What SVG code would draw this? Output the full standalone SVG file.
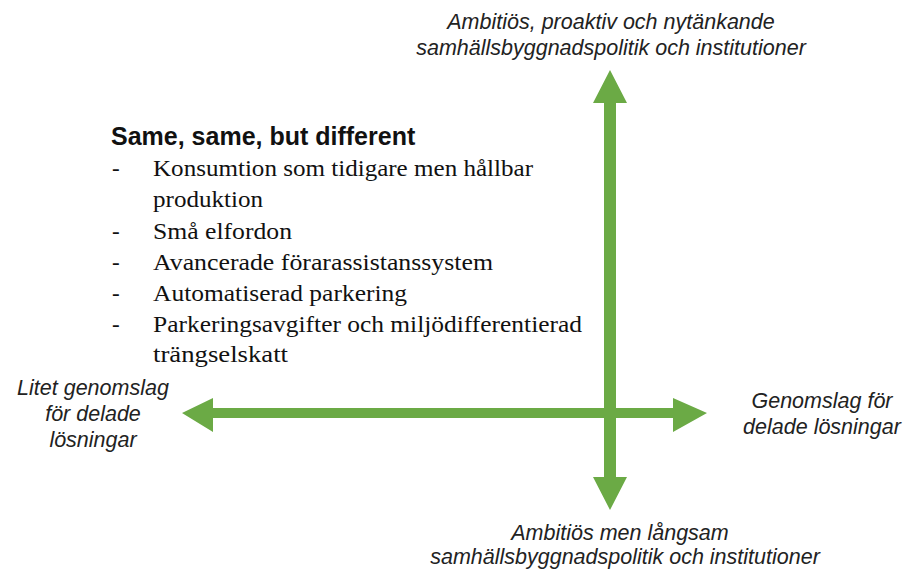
<svg xmlns="http://www.w3.org/2000/svg" width="907" height="569" viewBox="0 0 907 569">
<style>
.ax{font-family:"Liberation Sans",Arial,sans-serif;font-style:italic;font-size:21.5px;fill:#222;text-anchor:middle}
.t{font-family:"Liberation Sans",Arial,sans-serif;font-weight:bold;font-size:25px;fill:#111}
.b{font-family:"Liberation Serif","Times New Roman",serif;font-size:23px;fill:#111}
.arr{fill:#6BAA45}
</style>
<rect width="907" height="569" fill="#fff"/>
<g id="connectors">
<polygon class="arr" points="610,70 627,103 616,103 616,477 627,477 610,510 593,477 604,477 604,103 593,103"/>
<polygon class="arr" points="182,413 213,398 213,408 673,408 673,398 707,413 673,432 673,418 213,418 213,432"/>
</g>
<g id="top-label">
<text class="ax" x="611" y="29">Ambitiös, proaktiv och nytänkande</text>
<text class="ax" x="611" y="55">samhällsbyggnadspolitik och institutioner</text>
</g>
<g id="bottom-label">
<text class="ax" x="620" y="540">Ambitiös men långsam</text>
<text class="ax" x="625" y="564">samhällsbyggnadspolitik och institutioner</text>
</g>
<g id="left-label">
<text class="ax" x="93" y="395">Litet genomslag</text>
<text class="ax" x="93" y="421">för delade</text>
<text class="ax" x="93" y="447">lösningar</text>
</g>
<g id="right-label">
<text class="ax" x="822" y="408">Genomslag för</text>
<text class="ax" x="822" y="434">delade lösningar</text>
</g>
<g id="quadrant-text">
<text class="t" x="111" y="145">Same, same, but different</text>
<text class="b" x="112" y="176">-</text><text class="b" x="153" y="176" textLength="380" lengthAdjust="spacingAndGlyphs">Konsumtion som tidigare men hållbar</text>
<text class="b" x="153" y="207" textLength="110" lengthAdjust="spacingAndGlyphs">produktion</text>
<text class="b" x="112" y="239">-</text><text class="b" x="153" y="239" textLength="139" lengthAdjust="spacingAndGlyphs">Små elfordon</text>
<text class="b" x="112" y="270">-</text><text class="b" x="153" y="270" textLength="340" lengthAdjust="spacingAndGlyphs">Avancerade förarassistanssystem</text>
<text class="b" x="112" y="301">-</text><text class="b" x="153" y="301" textLength="254" lengthAdjust="spacingAndGlyphs">Automatiserad parkering</text>
<text class="b" x="112" y="332">-</text><text class="b" x="153" y="332" textLength="429" lengthAdjust="spacingAndGlyphs">Parkeringsavgifter  och miljödifferentierad</text>
<text class="b" x="153" y="362" textLength="135" lengthAdjust="spacingAndGlyphs">trängselskatt</text>
</g>
</svg>
